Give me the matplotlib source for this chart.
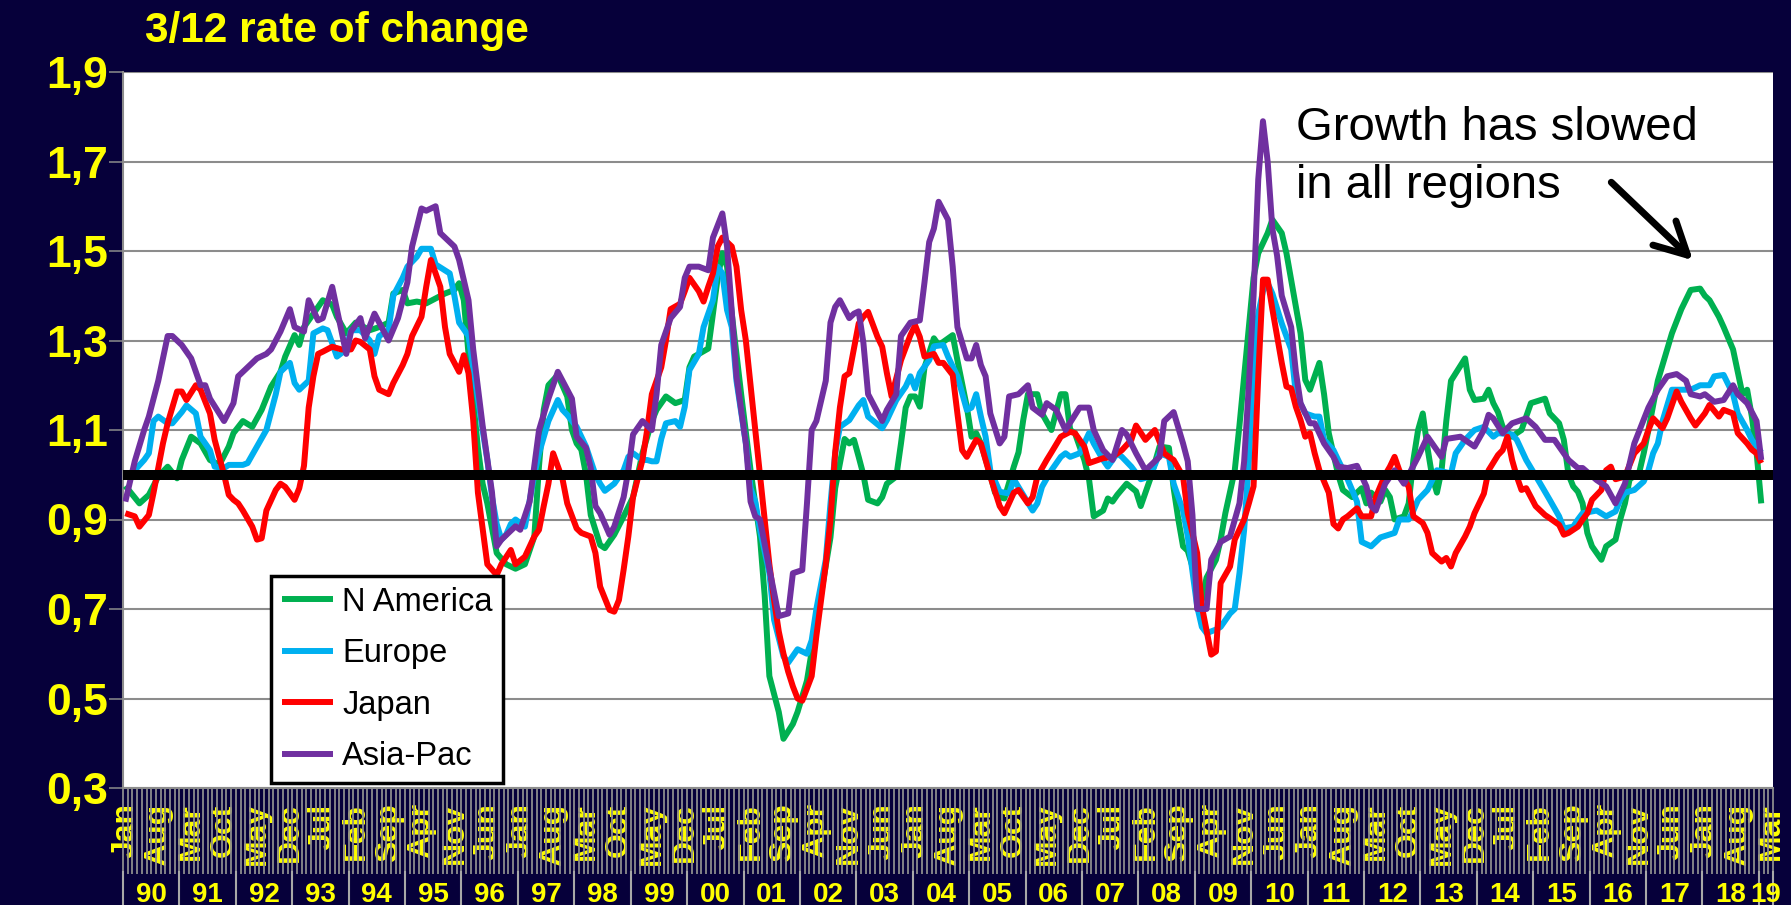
import numpy as np
import matplotlib
matplotlib.use("Agg")
import matplotlib.pyplot as plt
from matplotlib.transforms import blended_transform_factory

plt.rcParams["font.family"] = ["Liberation Sans", "DejaVu Sans"]

NAVY = "#06003a"
YELLOW = "#ffff00"
GRID = "#8c8c8c"

# months counted from Jan 1990 (0) to Mar 2019 (350)
n_months = 351
month_names = ["Jan", "Feb", "Mar", "Apr", "May", "Jun",
               "Jul", "Aug", "Sep", "Oct", "Nov", "Dec"]
years = ["90", "91", "92", "93", "94", "95", "96", "97", "98", "99",
         "00", "01", "02", "03", "04", "05", "06", "07", "08", "09",
         "10", "11", "12", "13", "14", "15", "16", "17", "18", "19"]
y_ticks = [0.3, 0.5, 0.7, 0.9, 1.1, 1.3, 1.5, 1.7, 1.9]
y_labels = ["0,3", "0,5", "0,7", "0,9", "1,1", "1,3", "1,5", "1,7", "1,9"]

# (month index, 3/12 rate)
n_america = [
    (0, 0.975), (3, 0.936), (5, 0.955), (7, 0.996), (9, 1.018), (11, 0.992), (12, 1.033), (14, 1.085),
    (16, 1.07), (18, 1.033), (20, 1.022), (22, 1.063), (23, 1.093), (25, 1.12), (27, 1.107), (29, 1.145),
    (31, 1.197), (33, 1.23), (34, 1.264), (36, 1.312), (37, 1.29), (38, 1.33), (40, 1.36), (42, 1.39),
    (44, 1.38), (45, 1.353), (47, 1.316), (49, 1.34), (52, 1.323), (54, 1.33), (56, 1.34), (57, 1.405),
    (59, 1.413), (60, 1.383), (62, 1.387), (64, 1.383), (66, 1.394), (68, 1.405), (70, 1.413), (71, 1.428),
    (72, 1.39), (73, 1.27), (75, 1.06), (76, 0.98), (77, 0.936), (79, 0.825), (81, 0.80), (83, 0.79),
    (85, 0.80), (87, 0.862), (88, 1.02), (89, 1.145), (90, 1.20), (92, 1.223), (94, 1.175), (95, 1.10),
    (96, 1.07), (97, 1.056), (98, 1.0), (99, 0.91), (101, 0.843), (102, 0.836), (104, 0.866), (106, 0.907),
    (108, 0.95), (110, 1.048), (112, 1.12), (113, 1.145), (115, 1.175), (117, 1.16), (119, 1.167), (120, 1.24),
    (121, 1.264), (122, 1.27), (124, 1.282), (125, 1.36), (126, 1.44), (127, 1.495), (128, 1.465), (129, 1.36),
    (131, 1.18), (133, 1.01), (135, 0.862), (136, 0.73), (137, 0.55), (139, 0.47), (140, 0.41), (142, 0.443),
    (143, 0.47), (145, 0.54), (147, 0.67), (150, 0.86), (151, 0.97), (153, 1.08), (154, 1.07), (155, 1.078),
    (156, 1.04), (157, 1.0), (158, 0.944), (160, 0.936), (161, 0.95), (162, 0.98), (164, 0.996), (165, 1.07),
    (166, 1.15), (167, 1.175), (168, 1.175), (169, 1.152), (170, 1.24), (172, 1.305), (173, 1.29), (174, 1.297),
    (176, 1.312), (177, 1.256), (179, 1.152), (180, 1.085), (181, 1.093), (182, 1.07), (184, 1.0), (185, 0.96),
    (186, 0.95), (187, 0.947), (189, 1.018), (190, 1.05), (191, 1.122), (192, 1.18), (194, 1.18), (195, 1.137),
    (197, 1.10), (199, 1.18), (200, 1.18), (201, 1.10), (202, 1.093), (204, 1.033), (205, 0.99), (206, 0.907),
    (208, 0.92), (209, 0.947), (210, 0.94), (211, 0.955), (213, 0.98), (215, 0.963), (216, 0.93), (218, 0.99),
    (220, 1.063), (222, 1.06), (223, 0.97), (224, 0.90), (225, 0.84), (226, 0.83), (227, 0.795), (228, 0.735),
    (229, 0.72), (230, 0.77), (232, 0.81), (233, 0.855), (234, 0.914), (236, 1.01), (237, 1.11), (239, 1.33),
    (240, 1.44), (241, 1.495), (243, 1.54), (244, 1.57), (246, 1.54), (247, 1.495), (248, 1.435), (250, 1.316),
    (251, 1.212), (252, 1.19), (254, 1.25), (255, 1.18), (256, 1.093), (258, 1.0), (259, 0.966), (261, 0.95),
    (263, 0.97), (264, 0.936), (265, 0.96), (267, 0.94), (268, 0.966), (269, 0.95), (270, 0.90), (272, 0.907),
    (273, 0.936), (274, 1.033), (275, 1.10), (276, 1.137), (277, 1.06), (278, 0.996), (279, 0.96), (280, 1.01),
    (281, 1.12), (282, 1.21), (285, 1.26), (286, 1.19), (287, 1.167), (289, 1.17), (290, 1.19), (291, 1.16),
    (292, 1.14), (293, 1.107), (295, 1.085), (296, 1.093), (297, 1.10), (299, 1.16), (302, 1.17), (303, 1.137),
    (305, 1.115), (306, 1.078), (307, 1.0), (308, 0.974), (309, 0.962), (310, 0.936), (311, 0.87), (312, 0.84),
    (314, 0.81), (315, 0.84), (317, 0.855), (318, 0.90), (319, 0.936), (320, 0.99), (322, 1.003), (323, 1.048),
    (324, 1.10), (326, 1.21), (329, 1.316), (331, 1.37), (333, 1.413), (335, 1.416), (336, 1.40), (337, 1.39),
    (339, 1.353), (340, 1.33), (342, 1.28), (343, 1.23), (344, 1.18), (345, 1.19), (346, 1.13), (347, 1.05),
    (348, 0.936),
]

europe = [
    (0, 0.996), (2, 1.01), (4, 1.033), (5, 1.048), (6, 1.12), (7, 1.13), (9, 1.115), (10, 1.115),
    (12, 1.14), (13, 1.155), (15, 1.137), (16, 1.085), (18, 1.055), (19, 1.018), (21, 1.015), (22, 1.022),
    (25, 1.022), (26, 1.026), (28, 1.063), (30, 1.10), (32, 1.18), (33, 1.23), (35, 1.25), (36, 1.205),
    (37, 1.19), (39, 1.21), (40, 1.316), (42, 1.327), (43, 1.323), (44, 1.294), (45, 1.264), (47, 1.28),
    (48, 1.323), (50, 1.323), (52, 1.30), (53, 1.27), (54, 1.31), (56, 1.323), (57, 1.40), (59, 1.44),
    (60, 1.465), (62, 1.487), (63, 1.505), (65, 1.505), (66, 1.47), (69, 1.45), (70, 1.40), (71, 1.34),
    (73, 1.31), (74, 1.24), (76, 1.10), (77, 1.033), (78, 0.95), (79, 0.89), (80, 0.855), (81, 0.866),
    (82, 0.89), (83, 0.90), (85, 0.884), (87, 1.0), (88, 1.048), (90, 1.12), (92, 1.167), (93, 1.145),
    (94, 1.134), (96, 1.107), (97, 1.085), (98, 1.063), (100, 1.0), (101, 0.98), (102, 0.964), (104, 0.98),
    (106, 1.01), (107, 1.04), (108, 1.048), (110, 1.033), (111, 1.033), (112, 1.03), (113, 1.03), (114, 1.08),
    (115, 1.115), (117, 1.12), (118, 1.107), (119, 1.152), (120, 1.234), (122, 1.27), (123, 1.33), (125, 1.39),
    (126, 1.465), (127, 1.45), (128, 1.368), (129, 1.33), (130, 1.21), (132, 1.07), (133, 0.97), (134, 0.94),
    (135, 0.877), (137, 0.78), (138, 0.676), (140, 0.594), (141, 0.58), (143, 0.61), (145, 0.60), (146, 0.63),
    (147, 0.70), (149, 0.81), (150, 0.936), (151, 1.048), (152, 1.107), (154, 1.122), (156, 1.155), (157, 1.167),
    (158, 1.13), (161, 1.104), (162, 1.122), (164, 1.167), (166, 1.197), (167, 1.22), (168, 1.193), (169, 1.227),
    (171, 1.256), (172, 1.287), (174, 1.29), (175, 1.264), (177, 1.22), (179, 1.145), (180, 1.15), (181, 1.18),
    (182, 1.13), (183, 1.085), (184, 1.01), (186, 0.962), (188, 0.958), (189, 0.99), (191, 0.955), (193, 0.92),
    (194, 0.936), (195, 0.973), (197, 1.01), (199, 1.04), (200, 1.048), (201, 1.04), (203, 1.048), (205, 1.093),
    (206, 1.07), (208, 1.033), (209, 1.018), (211, 1.048), (212, 1.04), (214, 1.018), (216, 0.99), (218, 0.996),
    (220, 1.048), (222, 1.04), (223, 0.98), (225, 0.92), (226, 0.862), (228, 0.706), (229, 0.66), (230, 0.646),
    (232, 0.654), (233, 0.66), (235, 0.69), (236, 0.70), (237, 0.78), (238, 0.877), (239, 1.03), (240, 1.25),
    (241, 1.36), (242, 1.41), (243, 1.428), (244, 1.405), (246, 1.338), (248, 1.28), (249, 1.18), (251, 1.137),
    (253, 1.13), (254, 1.13), (255, 1.078), (257, 1.055), (258, 1.033), (260, 0.99), (262, 0.94), (263, 0.85),
    (265, 0.84), (267, 0.86), (270, 0.87), (271, 0.90), (273, 0.90), (274, 0.92), (275, 0.944), (277, 0.966),
    (279, 1.01), (282, 1.003), (283, 1.048), (285, 1.078), (287, 1.10), (289, 1.107), (291, 1.085), (292, 1.093),
    (295, 1.09), (296, 1.078), (298, 1.033), (301, 0.98), (303, 0.944), (305, 0.907), (306, 0.88), (308, 0.884),
    (309, 0.90), (310, 0.914), (312, 0.918), (313, 0.92), (315, 0.907), (317, 0.918), (318, 0.944), (319, 0.96),
    (321, 0.966), (323, 0.985), (324, 1.01), (325, 1.048), (326, 1.07), (327, 1.12), (329, 1.19), (331, 1.19),
    (333, 1.19), (335, 1.20), (337, 1.20), (338, 1.22), (340, 1.223), (342, 1.18), (343, 1.137), (345, 1.10),
    (346, 1.078), (348, 1.05),
]

japan = [
    (0, 0.914), (2, 0.907), (3, 0.884), (5, 0.91), (6, 0.96), (8, 1.07), (9, 1.115), (11, 1.186),
    (12, 1.186), (13, 1.167), (15, 1.20), (16, 1.19), (18, 1.137), (19, 1.078), (21, 1.0), (22, 0.955),
    (23, 0.944), (24, 0.936), (25, 0.92), (27, 0.884), (28, 0.855), (29, 0.858), (30, 0.92), (32, 0.966),
    (33, 0.98), (34, 0.973), (36, 0.944), (37, 0.97), (38, 1.02), (39, 1.15), (40, 1.22), (41, 1.27),
    (42, 1.275), (44, 1.286), (46, 1.28), (48, 1.28), (49, 1.30), (50, 1.297), (52, 1.28), (53, 1.22),
    (54, 1.19), (56, 1.18), (57, 1.205), (59, 1.245), (60, 1.27), (61, 1.31), (63, 1.353), (64, 1.42),
    (65, 1.48), (67, 1.42), (68, 1.33), (69, 1.27), (71, 1.23), (72, 1.267), (73, 1.227), (74, 1.122),
    (75, 0.96), (77, 0.80), (79, 0.776), (80, 0.80), (82, 0.832), (83, 0.80), (85, 0.817), (87, 0.862),
    (88, 0.877), (89, 0.93), (90, 0.98), (91, 1.048), (93, 0.99), (94, 0.936), (96, 0.88), (97, 0.87),
    (99, 0.862), (100, 0.825), (101, 0.75), (103, 0.698), (104, 0.694), (105, 0.72), (106, 0.788), (107, 0.862),
    (108, 0.95), (110, 1.033), (111, 1.10), (112, 1.18), (114, 1.24), (115, 1.30), (116, 1.37), (118, 1.382),
    (119, 1.41), (120, 1.44), (122, 1.41), (123, 1.387), (124, 1.42), (125, 1.45), (126, 1.51), (127, 1.53),
    (129, 1.51), (130, 1.465), (131, 1.368), (132, 1.30), (133, 1.20), (134, 1.10), (135, 1.0), (136, 0.90),
    (137, 0.80), (138, 0.72), (139, 0.65), (140, 0.60), (141, 0.56), (142, 0.527), (143, 0.50), (144, 0.495),
    (146, 0.55), (147, 0.64), (148, 0.72), (149, 0.80), (150, 0.90), (151, 1.05), (152, 1.15), (153, 1.22),
    (154, 1.227), (156, 1.338), (157, 1.353), (158, 1.364), (160, 1.308), (161, 1.286), (162, 1.227), (163, 1.175),
    (165, 1.256), (167, 1.312), (168, 1.334), (169, 1.308), (170, 1.264), (172, 1.27), (173, 1.25), (174, 1.25),
    (176, 1.223), (177, 1.137), (178, 1.055), (179, 1.04), (181, 1.078), (182, 1.07), (183, 1.033), (184, 0.996),
    (186, 0.93), (187, 0.914), (189, 0.96), (190, 0.966), (192, 0.936), (193, 0.95), (194, 0.996), (196, 1.033),
    (197, 1.05), (199, 1.085), (201, 1.096), (202, 1.093), (204, 1.063), (205, 1.026), (208, 1.037), (210, 1.04),
    (212, 1.055), (214, 1.078), (215, 1.11), (217, 1.078), (219, 1.10), (221, 1.048), (222, 1.04), (223, 1.033),
    (225, 0.996), (226, 0.914), (228, 0.825), (229, 0.706), (231, 0.598), (232, 0.605), (233, 0.758), (235, 0.795),
    (236, 0.855), (238, 0.90), (239, 0.936), (240, 0.974), (241, 1.22), (242, 1.436), (243, 1.436), (244, 1.37),
    (246, 1.25), (247, 1.197), (248, 1.193), (249, 1.152), (250, 1.122), (251, 1.085), (252, 1.093), (253, 1.048),
    (254, 1.01), (256, 0.96), (257, 0.89), (258, 0.88), (259, 0.90), (260, 0.907), (262, 0.925), (263, 0.907),
    (265, 0.907), (266, 0.95), (268, 1.0), (269, 1.018), (270, 1.04), (271, 1.01), (273, 0.973), (274, 0.907),
    (276, 0.892), (277, 0.87), (278, 0.825), (280, 0.806), (281, 0.814), (282, 0.795), (283, 0.825), (285, 0.862),
    (286, 0.884), (287, 0.914), (289, 0.958), (290, 1.01), (292, 1.044), (293, 1.055), (294, 1.085), (295, 1.033),
    (296, 0.996), (297, 0.966), (298, 0.97), (299, 0.95), (300, 0.93), (302, 0.91), (303, 0.903), (305, 0.888),
    (306, 0.866), (307, 0.87), (309, 0.884), (310, 0.90), (311, 0.914), (312, 0.944), (314, 0.966), (315, 1.01),
    (316, 1.018), (317, 0.99), (319, 0.996), (321, 1.048), (323, 1.07), (324, 1.10), (325, 1.126), (327, 1.104),
    (328, 1.126), (330, 1.186), (331, 1.163), (333, 1.126), (334, 1.11), (336, 1.137), (337, 1.156), (339, 1.13),
    (340, 1.145), (342, 1.137), (343, 1.093), (345, 1.07), (346, 1.056), (347, 1.048), (348, 1.026),
]

asia_pac = [
    (0, 0.94), (2, 1.03), (4, 1.10), (5, 1.13), (7, 1.21), (9, 1.31), (10, 1.31), (12, 1.29),
    (14, 1.26), (15, 1.23), (16, 1.20), (17, 1.20), (18, 1.17), (21, 1.12), (23, 1.16), (24, 1.22),
    (26, 1.24), (28, 1.26), (30, 1.27), (31, 1.28), (33, 1.32), (35, 1.37), (36, 1.33), (38, 1.32),
    (39, 1.39), (41, 1.345), (42, 1.35), (44, 1.42), (47, 1.27), (48, 1.32), (50, 1.35), (51, 1.305),
    (53, 1.36), (56, 1.30), (58, 1.35), (60, 1.43), (61, 1.51), (63, 1.595), (64, 1.59), (66, 1.60),
    (67, 1.54), (70, 1.51), (71, 1.48), (73, 1.39), (74, 1.28), (76, 1.11), (78, 0.96), (79, 0.84),
    (80, 0.855), (83, 0.885), (84, 0.877), (86, 0.94), (88, 1.10), (90, 1.17), (92, 1.23), (93, 1.21),
    (95, 1.17), (96, 1.085), (98, 1.06), (99, 1.015), (100, 0.93), (101, 0.914), (103, 0.866), (104, 0.884),
    (106, 0.95), (107, 1.01), (108, 1.09), (110, 1.12), (112, 1.10), (113, 1.18), (114, 1.29), (116, 1.35),
    (118, 1.375), (119, 1.44), (120, 1.465), (122, 1.465), (124, 1.457), (125, 1.53), (127, 1.584), (128, 1.51),
    (130, 1.22), (132, 1.07), (133, 0.94), (134, 0.907), (135, 0.90), (137, 0.79), (139, 0.684), (141, 0.69),
    (142, 0.78), (144, 0.787), (145, 0.936), (146, 1.10), (147, 1.12), (149, 1.21), (150, 1.34), (151, 1.375),
    (152, 1.39), (154, 1.35), (155, 1.36), (156, 1.365), (157, 1.295), (158, 1.18), (161, 1.12), (162, 1.145),
    (164, 1.18), (165, 1.31), (167, 1.34), (169, 1.345), (170, 1.43), (171, 1.52), (172, 1.55), (173, 1.61),
    (175, 1.57), (176, 1.465), (177, 1.33), (179, 1.26), (180, 1.26), (181, 1.29), (182, 1.245), (183, 1.22),
    (184, 1.137), (186, 1.07), (187, 1.085), (188, 1.175), (190, 1.18), (192, 1.20), (193, 1.15), (195, 1.134),
    (196, 1.16), (198, 1.145), (200, 1.10), (203, 1.15), (205, 1.15), (206, 1.10), (208, 1.055), (210, 1.033),
    (212, 1.10), (213, 1.09), (215, 1.048), (217, 1.01), (220, 1.04), (221, 1.12), (223, 1.14), (225, 1.07),
    (226, 1.03), (227, 0.91), (228, 0.70), (230, 0.70), (231, 0.81), (233, 0.85), (235, 0.862), (237, 0.936),
    (238, 1.03), (239, 1.20), (240, 1.40), (241, 1.66), (242, 1.79), (243, 1.70), (244, 1.55), (245, 1.49),
    (246, 1.40), (248, 1.33), (249, 1.23), (250, 1.16), (252, 1.115), (253, 1.115), (255, 1.07), (257, 1.04),
    (258, 1.018), (260, 1.015), (262, 1.02), (264, 0.974), (265, 0.93), (266, 0.92), (268, 0.98), (270, 1.01),
    (272, 0.98), (275, 1.04), (277, 1.085), (278, 1.07), (280, 1.04), (281, 1.08), (284, 1.085), (287, 1.063),
    (289, 1.10), (290, 1.134), (291, 1.126), (293, 1.093), (295, 1.115), (298, 1.126), (300, 1.107), (302, 1.078),
    (304, 1.078), (307, 1.033), (309, 1.015), (310, 1.015), (313, 0.988), (315, 0.974), (317, 0.936), (319, 0.98),
    (321, 1.07), (324, 1.15), (326, 1.19), (328, 1.22), (330, 1.225), (332, 1.21), (333, 1.18), (335, 1.175),
    (336, 1.18), (338, 1.163), (340, 1.167), (342, 1.20), (343, 1.18), (345, 1.16), (347, 1.12), (348, 1.033),
]

series = [
    ("N America", n_america, "#00b050"),
    ("Europe", europe, "#00b0f0"),
    ("Japan", japan, "#ff0000"),
    ("Asia-Pac", asia_pac, "#7030a0"),
]

fig = plt.figure(figsize=(17.91, 9.05), dpi=100, facecolor=NAVY)
ax = fig.add_axes([123 / 1791, 1 - 788 / 905, 1650 / 1791, 716 / 905])
ax.set_facecolor("white")

for i, (name, pts, color) in enumerate(series):
    m, v = zip(*pts)
    ax.plot(m, v, color=color, lw=4.3, label=name, zorder=3 + i,
            solid_joinstyle="round", solid_capstyle="butt")

ax.axhline(1.0, color="black", lw=7.2, zorder=10)

ax.set_xlim(-0.5, n_months - 0.5)
ax.set_ylim(0.3, 1.9)

# y axis
ax.set_yticks(y_ticks, y_labels, fontweight="bold")
ax.tick_params(axis="y", labelcolor=YELLOW, labelsize=32, length=10,
               width=1.1, color=GRID, pad=1)
ax.yaxis.grid(True, color=GRID, lw=1.5)
ax.set_axisbelow(True)

# x axis: month labels every 7 months, a tick per month
label_idx = np.arange(0, n_months, 7)
ax.set_xticks(label_idx, [month_names[i % 12] for i in label_idx],
              rotation=90, fontweight="bold", fontsize=23, color=YELLOW)
ax.tick_params(axis="x", which="major", length=0, pad=11)
ax.set_xticks(np.arange(-0.5, n_months, 1.0), minor=True)
ax.tick_params(axis="x", which="minor", length=62, width=1.3, color=GRID)

for side in ("top", "right"):
    ax.spines[side].set_visible(False)
for side in ("left", "bottom"):
    ax.spines[side].set_color(GRID)
    ax.spines[side].set_linewidth(1.5)

# year row under the month labels
trans = blended_transform_factory(ax.transData, ax.transAxes)
for k in range(len(years) + 1):
    xb = min(12 * k, n_months) - 0.5
    ax.plot([xb, xb], [-0.118, -0.17], color="#a8a8a8", lw=1.5,
            transform=trans, clip_on=False)
for k, yr in enumerate(years):
    start = 12 * k
    end = min(12 * k + 11, n_months - 1)
    ax.text((start + end) / 2, -0.149, yr, transform=trans, ha="center",
            va="center", color=YELLOW, fontsize=20, fontweight="bold")

# legend
leg = ax.legend(loc="lower left", bbox_to_anchor=(0.0897, 0.007), fontsize=23.5,
                frameon=True, fancybox=False, edgecolor="black", framealpha=1,
                handlelength=1.57, handletextpad=0.28, labelspacing=0.63,
                borderpad=0.33, borderaxespad=0)
leg.get_frame().set_linewidth(2.5)
leg.set_zorder(20)

# annotation
ax.text(0.711, 0.905, "Growth has slowed", transform=ax.transAxes,
        fontsize=34, va="baseline", color="black")
ax.text(0.711, 0.824, "in all regions", transform=ax.transAxes,
        fontsize=34, va="baseline", color="black")
ax.annotate("", xy=(0.9515, 0.737), xytext=(0.902, 0.846),
            xycoords="axes fraction", textcoords="axes fraction",
            arrowprops=dict(arrowstyle="->,head_length=1.15,head_width=0.6",
                            mutation_scale=20, lw=5, color="black",
                            shrinkA=0, shrinkB=0))

fig.text(145 / 1791, 1 - 42 / 905, "3/12 rate of change", color=YELLOW,
         fontsize=30.5, fontweight="bold", va="baseline")

fig.savefig("out.png", dpi=100, facecolor=NAVY)
